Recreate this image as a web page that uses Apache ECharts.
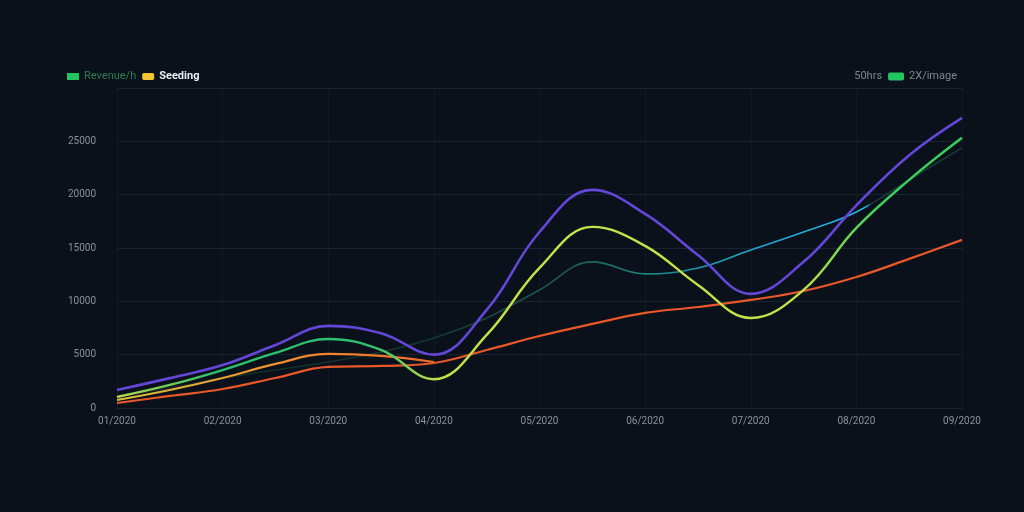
<!DOCTYPE html>
<html>
<head>
<meta charset="utf-8">
<script src="https://cdn.jsdelivr.net/npm/echarts@6/dist/echarts.min.js"></script>
<style>
  html, body { margin: 0; padding: 0; background: #0b111a; }
  #chart { width: 1024px; height: 512px; }
</style>
</head>
<body>
<div id="chart"></div>
<script>
// tick labels on the x axis (one every second point)
const tickLabels = ["01/2020", "02/2020", "03/2020", "04/2020", "05/2020", "06/2020", "07/2020", "08/2020", "09/2020"];
// half steps between the labelled ticks
const categories = [];
tickLabels.forEach((t, i) => {
  categories.push(t);
  if (i < tickLabels.length - 1) categories.push(t + " ½");
});

const yTicks = [0, 5000, 10000, 15000, 20000, 25000, 30000];

const salesValues = [1690, 2800, 4030, 5900, 7700, 7000, 5000, 9200, 16500, 20450, 18200, 14350, 10700, 13700, 19000, 23700, 27200];
const revenueValues = [1030, 2160, 3560, 5160, 6470, 5440, 2700, 6850, 13130, 16980, 15200, 11540, 8440, 11070, 16880, 21390, 25330];
const seedingValues = [750, 1690, 2810, 4130, 5070, 4880, 4310, null, null, null, null, null, null, null, null, null, null];
const hoursValues = [470, 1130, 1780, 2810, 3850, 3940, 4220, 5440, 6750, 7880, 8910, 9470, 10130, 10970, 12280, 13980, 15760];
const imageValues = [1130, 1880, 2810, 3560, 4310, 5250, 6570, 8440, 11070, 13700, 12570, 13130, 14820, 16500, 18380, 21390, 24390];

const chart = echarts.init(document.getElementById("chart"));

const hGrad = (stops) => new echarts.graphic.LinearGradient(0, 0, 1, 0, stops);

const option = {
  backgroundColor: "#0b111a",
  animation: false,
  legend: [
    {
      left: 62,
      top: 66,
      itemWidth: 12,
      itemHeight: 7,
      itemGap: 6,
      data: [
        { name: "Revenue/h", icon: "rect", itemStyle: { color: "#22c55e" }, textStyle: { color: "#2f7d55" } },
        { name: "Seeding", icon: "roundRect", itemStyle: { color: "#f5c531" }, textStyle: { color: "#e8ecf0", fontWeight: "bold" } }
      ],
      textStyle: { fontSize: 11, fontFamily: "Roboto" }
    },
    {
      right: 62,
      top: 66,
      itemWidth: 16,
      itemHeight: 8,
      itemGap: 6,
      data: [
        { name: "50hrs", icon: "none" },
        { name: "2X/image", icon: "roundRect", itemStyle: { color: "#22c55e" } }
      ],
      textStyle: { color: "#7d858f", fontSize: 11, fontFamily: "Roboto" }
    }
  ],
  grid: { left: 117, right: 62, top: 88, bottom: 104 },
  xAxis: {
    type: "category",
    boundaryGap: false,
    data: categories,
    axisLine: { show: true, lineStyle: { color: "#1c2632" } },
    axisTick: { show: false },
    axisLabel: {
      interval: 1,
      color: "#8a919a",
      fontSize: 10,
      fontFamily: "Roboto",
      margin: 8
    },
    splitLine: { show: true, interval: 1, lineStyle: { color: "#111a24" } }
  },
  yAxis: {
    type: "value",
    min: yTicks[0],
    max: yTicks[yTicks.length - 1],
    interval: 5000,
    axisLine: { show: false },
    axisTick: { show: false },
    axisLabel: {
      color: "#8a919a",
      fontSize: 10,
      fontFamily: "Roboto",
      margin: 21,
      showMaxLabel: false,
      formatter: (v) => String(v)
    },
    splitLine: { lineStyle: { color: "#1a2430" } }
  },
  series: [
    {
      name: "2X/image",
      type: "line",
      smooth: 0.4,
      symbol: "none",
      data: imageValues,
      lineStyle: {
        width: 1.6,
        color: hGrad([
          { offset: 0, color: "#10241f" },
          { offset: 0.4, color: "#163a33" },
          { offset: 0.57, color: "#1c6a58" },
          { offset: 0.66, color: "#1a8f9a" },
          { offset: 0.75, color: "#1ea4cc" },
          { offset: 0.885, color: "#2ab2e2" },
          { offset: 0.89, color: "#173a3c" },
          { offset: 1, color: "#1c3a3a" }
        ])
      },
      z: 1
    },
    {
      name: "50hrs",
      type: "line",
      smooth: 0.4,
      symbol: "none",
      data: hoursValues,
      lineStyle: { width: 2.2, color: "#e8582a" },
      z: 2
    },
    {
      name: "Seeding",
      type: "line",
      smooth: 0.4,
      symbol: "none",
      data: seedingValues,
      lineStyle: {
        width: 2.2,
        color: hGrad([
          { offset: 0, color: "#d8c03c" },
          { offset: 0.5, color: "#f0902e" },
          { offset: 1, color: "#ec6a2c" }
        ])
      },
      z: 3
    },
    {
      name: "Revenue/h",
      type: "line",
      smooth: 0.4,
      symbol: "none",
      data: revenueValues,
      lineStyle: {
        width: 2.4,
        color: hGrad([
          { offset: 0, color: "#b8d848" },
          { offset: 0.12, color: "#2cbf6c" },
          { offset: 0.3, color: "#2cc070" },
          { offset: 0.38, color: "#c6e04a" },
          { offset: 0.8, color: "#c6e04a" },
          { offset: 0.9, color: "#3ccf5c" },
          { offset: 1, color: "#3ccf5c" }
        ])
      },
      z: 4
    },
    {
      name: "Sales",
      type: "line",
      smooth: 0.4,
      symbol: "none",
      data: salesValues,
      lineStyle: { width: 2.6, color: "#6446d8" },
      z: 5
    }
  ]
};

chart.setOption(option);
</script>
</body>
</html>
